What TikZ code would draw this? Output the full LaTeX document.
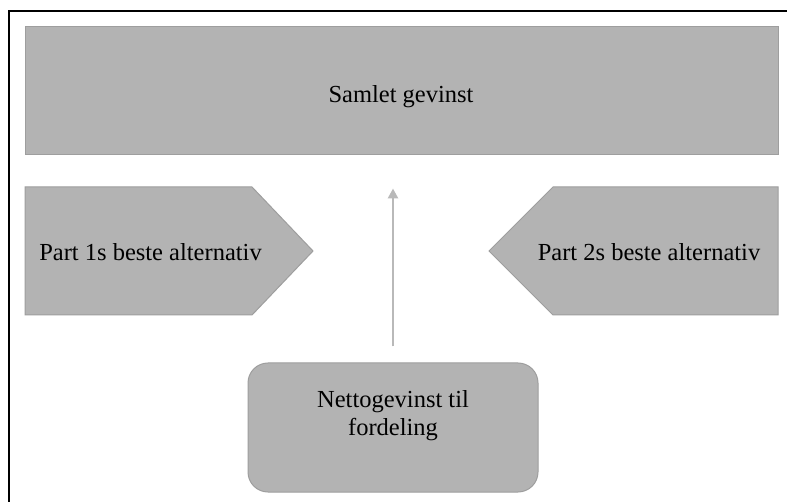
\documentclass[tikz,border=0pt]{standalone}
\usepackage{fontspec}
\setmainfont{Liberation Serif}
\usetikzlibrary{arrows.meta}
\definecolor{boxfill}{RGB}{179,179,179}
\definecolor{boxline}{RGB}{158,158,158}
\definecolor{arrowgray}{RGB}{185,185,185}
\begin{document}
\begin{tikzpicture}[x=1pt,y=-1pt,
  panel/.style={fill=boxfill, draw=boxline, line width=1pt},
  caption/.style={font=\fontsize{24.5}{28}\selectfont, text=black, inner sep=0pt, align=center},
]
\useasboundingbox (0,0) rectangle (787,502);
\fill[white] (0,0) rectangle (787,502);
% outer frame (left and top edges)
\draw[line width=1.6pt] (9,502) -- (9,11) -- (787,11);

% total gain bar
\node[panel, rectangle, minimum width=753pt, minimum height=128pt, inner sep=0pt] (total) at (401.5,91) {};
\node[caption] (totaltext) at (401,97) {Samlet gevinst};

% party 1 pentagon pointing right
\draw[panel] (25,187) -- (252,187) -- (313,251) -- (252,315) -- (25,315) -- cycle;
\node[caption] (p1) at (150.5,252) {Part 1s beste alternativ};

% party 2 pentagon pointing left
\draw[panel] (778,187) -- (553,187) -- (489,251) -- (553,315) -- (778,315) -- cycle;
\node[caption] (p2) at (649,252) {Part 2s beste alternativ};

% net gain box
\node[panel, rounded corners=20pt, minimum width=290pt, minimum height=129pt, inner sep=0pt] (net) at (393,427.5) {};
\node[caption] (nettext) at (393,416) {Nettogevinst til\\fordeling};

% arrow from net gain up towards total
\draw[arrowgray, line width=2.5pt, -{Triangle[length=10pt,width=10pt]}, shorten <=16pt, shorten >=33pt]
  (net.north) -- (net.north |- total.south);
\end{tikzpicture}
\end{document}
